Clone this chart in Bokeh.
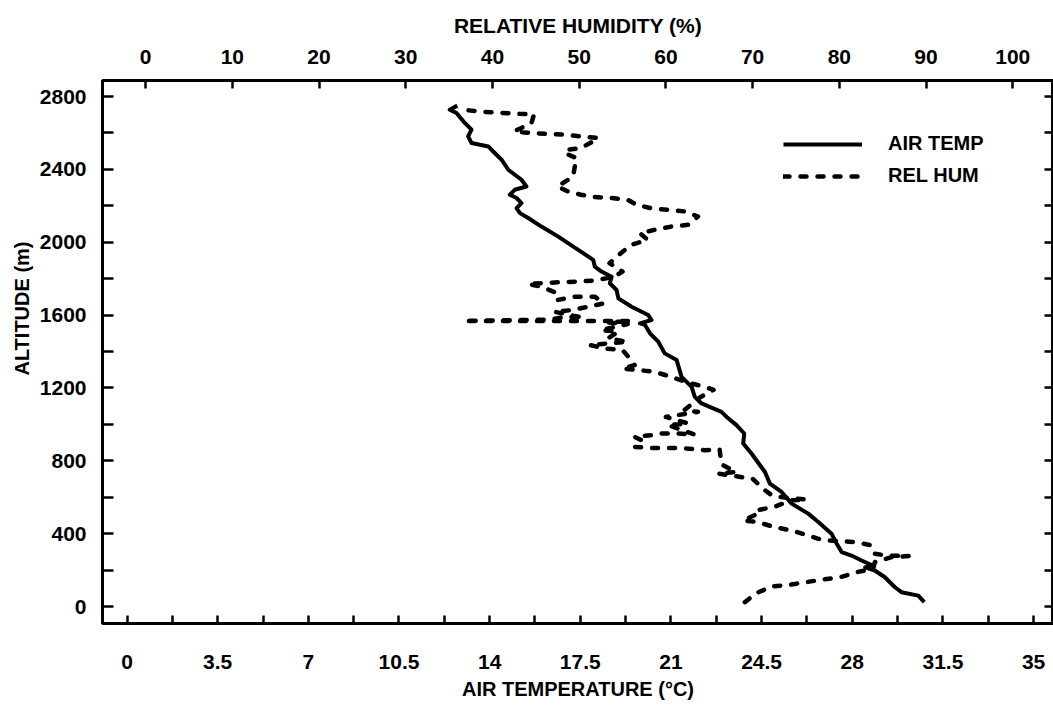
from bokeh.plotting import figure
from bokeh.models import Range1d, LinearAxis, FixedTicker, Legend, LegendItem, ColumnDataSource, Title
from bokeh.embed import file_html
from bokeh.resources import INLINE

# ---- data ----
temp_altitude = [24, 60, 79, 106, 161, 198, 215, 228, 253, 280, 299, 345, 400, 464, 510, 565,
                 629, 675, 739, 840, 895, 950, 996, 1041, 1069, 1115, 1151, 1206, 1261, 1353,
                 1390, 1454, 1500, 1546, 1555, 1573, 1601, 1646, 1692, 1738, 1775, 1811, 1839,
                 1866, 1903, 1940, 1958, 2031, 2086, 2133, 2160, 2187, 2215, 2243, 2261, 2288,
                 2306, 2343, 2398, 2453, 2508, 2526, 2545, 2581, 2618, 2655, 2710, 2728, 2750]
air_temp = [30.78, 30.55, 29.9, 29.65, 29.26, 28.87, 28.5, 28.75, 28.36, 27.97, 27.59, 27.4,
            27.2, 26.69, 26.3, 25.66, 25.27, 24.82, 24.63, 24.11, 23.79, 23.83, 23.53, 23.15,
            22.95, 22.18, 21.92, 21.8, 21.41, 21.22, 20.76, 20.51, 20.19, 20.0, 19.8, 20.25,
            20.12, 19.48, 18.97, 18.9, 18.64, 18.71, 18.32, 18.06, 18.0, 17.61, 17.42, 16.65,
            16.0, 15.49, 15.17, 15.04, 15.23, 15.04, 14.78, 14.97, 15.42, 15.23, 14.72, 14.46,
            14.07, 13.95, 13.3, 13.17, 13.3, 13.04, 12.72, 12.46, 12.75]

rh_altitude = [24, 73, 110, 119, 134, 149, 161, 189, 207, 244, 271, 277, 280, 290, 336, 354,
               363, 372, 390, 418, 436, 464, 473, 510, 528, 546, 583, 587, 601, 611, 647, 702,
               730, 739, 781, 862, 858, 867, 871, 871, 876, 913, 931, 941, 950, 950, 944, 990,
               996, 1005, 1041, 1069, 1078, 1150, 1190, 1206, 1230, 1261, 1289, 1307, 1326,
               1353, 1408, 1417, 1436, 1454, 1472, 1509, 1518, 1551, 1560, 1568, 1568, 1575,
               1591, 1585, 1619, 1628, 1646, 1665, 1701, 1701, 1683, 1720, 1756, 1771, 1780,
               1784, 1789, 1810, 1839, 1885, 1940, 1986, 2013, 2050, 2068, 2086, 2096, 2141,
               2169, 2178, 2187, 2206, 2233, 2243, 2248, 2261, 2279, 2306, 2361, 2416, 2462,
               2490, 2508, 2517, 2554, 2572, 2581, 2591, 2595, 2600, 2609, 2654, 2703, 2705,
               2710, 2716, 2725]
rel_hum = [69.1, 70.4, 72.2, 74.2, 76.2, 78.1, 80.1, 82.0, 83.9, 84.1, 86.0, 88.0, 85.5, 84.1,
           83.7, 81.8, 78.7, 77.6, 76.4, 74.5, 72.5, 70.6, 68.9, 70.6, 70.4, 72.4, 74.5, 76.2,
           73.3, 72.2, 71.2, 70.0, 66.0, 68.1, 66.4, 66.2, 64.5, 62.6, 60.4, 58.3, 56.4, 57.2,
           56.4, 58.3, 59.5, 61.4, 63.3, 60.6, 60.2, 62.6, 60.0, 63.7, 62.1, 64.0, 65.5, 64.5,
           62.5, 60.6, 58.7, 55.0, 56.4, 56.0, 55.0, 52.9, 51.2, 55.6, 53.3, 54.5, 52.5, 55.6,
           53.3, 56.0, 36.7, 46.4, 48.7, 50.5, 47.1, 49.3, 51.0, 52.9, 51.8, 49.4, 47.5, 47.5,
           45.6, 44.1, 47.5, 49.7, 51.6, 54.0, 55.0, 53.5, 54.8, 56.0, 57.9, 57.0, 58.7, 60.6,
           62.6, 63.7, 62.2, 60.2, 58.3, 56.6, 55.6, 53.7, 51.8, 50.2, 48.7, 47.5, 49.3, 49.5,
           49.7, 48.3, 48.7, 50.2, 51.6, 52.2, 50.2, 48.1, 46.2, 44.3, 42.5, 44.5, 44.8, 42.9,
           41.0, 39.1, 37.0]

temp_ticks = [0, 3.5, 7, 10.5, 14, 17.5, 21, 24.5, 28, 31.5, 35]
temp_tick_labels = ["0", "3.5", "7", "10.5", "14", "17.5", "21", "24.5", "28", "31.5", "35"]
temp_minor_ticks = [1.75, 5.25, 8.75, 12.25, 15.75, 19.25, 22.75, 26.25, 29.75, 33.25]
rh_ticks = [0, 10, 20, 30, 40, 50, 60, 70, 80, 90, 100]
alt_ticks = [0, 400, 800, 1200, 1600, 2000, 2400, 2800]
alt_minor_ticks = [200, 600, 1000, 1400, 1800, 2200, 2600]
alt_all_ticks = [0, 200, 400, 600, 800, 1000, 1200, 1400, 1600, 1800, 2000, 2200, 2400, 2600, 2800]

FONT = "Liberation Sans"

p = figure(width=1053, height=705, output_backend="svg", toolbar_location=None,
           x_range=Range1d(-0.947, 35.77), y_range=Range1d(-93, 2888),
           min_border_left=102, min_border_right=0, min_border_top=80, min_border_bottom=82,
           background_fill_color="white", border_fill_color="white")
p.extra_x_ranges = {"rh": Range1d(-4.97, 104.7)}
p.grid.visible = False
p.outline_line_color = "black"
p.outline_line_width = 3


def style_axis(ax, tick_len):
    ax.axis_line_width = 3
    ax.axis_line_color = "black"
    ax.major_tick_in = tick_len
    ax.major_tick_out = 0
    ax.minor_tick_in = tick_len
    ax.minor_tick_out = 0
    ax.major_tick_line_width = 2.5
    ax.minor_tick_line_width = 2.5
    ax.major_tick_line_color = "black"
    ax.minor_tick_line_color = "black"
    ax.major_label_text_font = FONT
    ax.major_label_text_font_style = "bold"
    ax.major_label_text_font_size = "21px"
    ax.major_label_text_color = "black"
    ax.axis_label_text_font = FONT
    ax.axis_label_text_font_style = "bold"
    ax.axis_label_text_font_size = "21px"
    ax.axis_label_text_color = "black"


# bottom axis: air temperature
xb = p.xaxis[0]
xb.ticker = FixedTicker(ticks=temp_ticks, minor_ticks=temp_minor_ticks)
xb.major_label_overrides = {t: l for t, l in zip(temp_ticks, temp_tick_labels)}
xb.axis_label = "AIR TEMPERATURE (°C)"
style_axis(xb, 8)
xb.axis_label_text_font_size = "20px"
xb.major_label_standoff = 31
xb.axis_label_standoff = 6

# left axis: altitude (its title is placed by a side Title so it can sit higher)
yl = p.yaxis[0]
yl.ticker = FixedTicker(ticks=alt_ticks, minor_ticks=alt_minor_ticks)
yl.axis_label = None
style_axis(yl, 11)
yl.major_label_standoff = 16

# top axis: relative humidity
xt = LinearAxis(x_range_name="rh", axis_label="RELATIVE HUMIDITY (%)")
xt.ticker = FixedTicker(ticks=rh_ticks, minor_ticks=[])
style_axis(xt, 8)
xt.major_label_standoff = 17
xt.axis_label_standoff = 10
p.add_layout(xt, "above")

# right axis: ticks only (minor ticks carry no labels)
yr = LinearAxis()
yr.ticker = FixedTicker(ticks=[], minor_ticks=alt_all_ticks)
style_axis(yr, 9)
yr.major_label_standoff = 0
p.add_layout(yr, "right")

ytitle = Title(text="ALTITUDE (m)", align="right", offset=161, vertical_align="bottom",
               standoff=7, text_font=FONT, text_font_style="bold", text_font_size="20px",
               text_color="black")
p.add_layout(ytitle, "left")

src_t = ColumnDataSource(dict(x=air_temp, y=temp_altitude))
src_h = ColumnDataSource(dict(x=rel_hum, y=rh_altitude))

r_temp = p.line("x", "y", source=src_t, line_color="black", line_width=4, line_join="round")
r_rh = p.line("x", "y", source=src_h, x_range_name="rh", line_color="black", line_width=4.5,
              line_dash="6 11", line_cap="round", line_join="round")

legend = Legend(items=[LegendItem(label="AIR TEMP", renderers=[r_temp]),
                       LegendItem(label="REL HUM", renderers=[r_rh])],
                location=(681, 436), orientation="vertical",
                glyph_width=79, glyph_height=20, label_height=20, label_standoff=26,
                spacing=9, padding=0, margin=0,
                border_line_alpha=0, background_fill_alpha=0,
                label_text_font=FONT, label_text_font_style="bold",
                label_text_font_size="20px", label_text_color="black")
p.add_layout(legend)

open("out.html", "w").write(file_html(p, INLINE))
